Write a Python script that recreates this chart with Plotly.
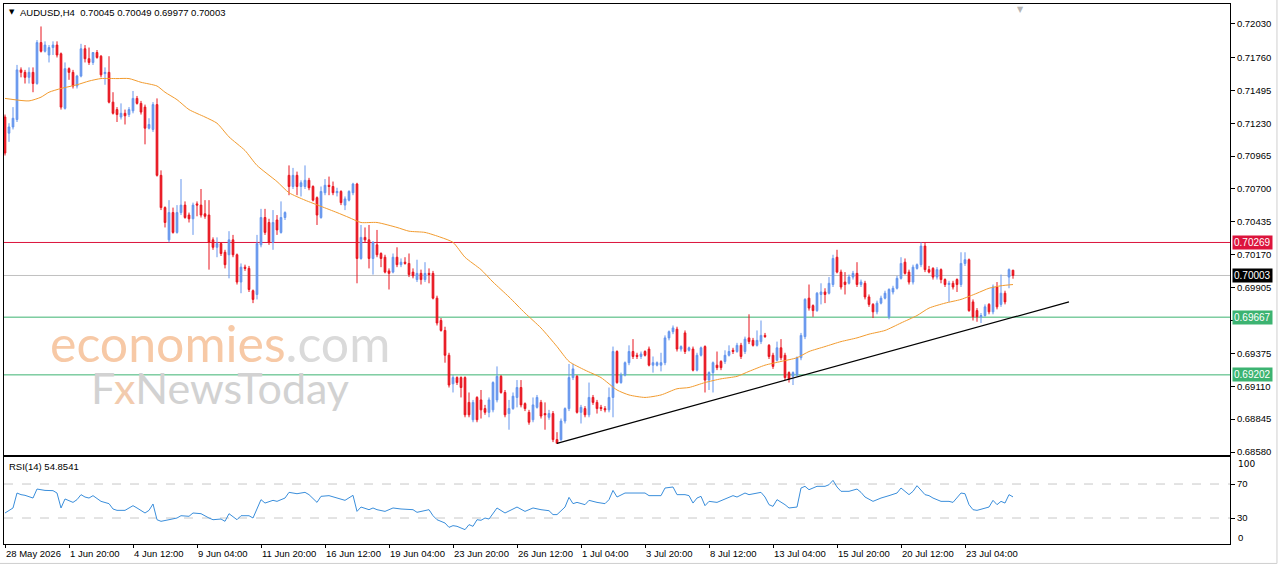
import plotly.graph_objects as go

# ---------------- data ----------------
opens = [
0.7128,0.7115,0.7120,0.7126,0.7166,0.7164,0.7160,0.7164,0.7155,0.7188,
0.7181,0.7178,0.7184,0.7186,0.7179,0.7135,0.7167,0.7164,0.7153,0.7161,
0.7183,0.7175,0.7172,0.7180,0.7177,0.7163,0.7164,0.7140,0.7134,0.7128,
0.7131,0.7130,0.7133,0.7143,0.7139,0.7136,0.7119,0.7118,0.7138,0.7081,
0.7055,0.7029,0.7051,0.7035,0.7051,0.7057,0.7049,0.7046,0.7058,0.7057,
0.7050,0.7049,0.7029,0.7023,0.7026,0.7019,0.7017,0.7029,0.7017,0.6995,
0.7007,0.7006,0.6988,0.6985,0.7025,0.7047,0.7043,0.7027,0.7045,0.7035,
0.7047,0.7081,0.7072,0.7081,0.7072,0.7072,0.7077,0.7072,0.7063,0.7047,
0.7067,0.7073,0.7072,0.7067,0.7068,0.7057,0.7061,0.7067,0.7074,0.7014,
0.7031,0.7029,0.7014,0.7025,0.7018,0.7015,0.7004,0.7003,0.7015,0.7009,
0.7011,0.7010,0.7003,0.6997,0.7002,0.6997,0.7002,0.7002,0.6982,0.6964,
0.6956,0.6936,0.6913,0.6918,0.6918,0.6918,0.6898,0.6884,0.6902,0.6900,
0.6893,0.6890,0.6892,0.6900,0.6919,0.6906,0.6889,0.6893,0.6902,0.6910,
0.6897,0.6890,0.6884,0.6894,0.6898,0.6889,0.6886,0.6889,0.6868,0.6868,
0.6883,0.6893,0.6918,0.6919,0.6890,0.6893,0.6888,0.6902,0.6898,0.6894,
0.6893,0.6892,0.6902,0.6939,0.6914,0.6920,0.6930,0.6939,0.6936,0.6935,
0.6939,0.6941,0.6928,0.6928,0.6928,0.6930,0.6950,0.6955,0.6957,0.6941,
0.6954,0.6940,0.6941,0.6924,0.6936,0.6943,0.6916,0.6922,0.6928,0.6931,
0.6931,0.6936,0.6940,0.6939,0.6944,0.6939,0.6950,0.6948,0.6944,0.6947,
0.6952,0.6944,0.6936,0.6932,0.6942,0.6936,0.6922,0.6919,0.6920,0.6934,
0.6951,0.6982,0.6976,0.6972,0.6985,0.6987,0.6986,0.6993,0.7015,0.7003,
0.6995,0.6994,0.6999,0.7002,0.6993,0.6994,0.6983,0.6977,0.6971,0.6978,
0.6982,0.6967,0.6987,0.6990,0.6998,0.7011,0.7003,0.6995,0.7006,0.7009,
0.7024,0.7005,0.7006,0.6999,0.7005,0.6997,0.6993,0.6994,0.6997,0.6993,
0.7010,0.7013,0.6979,0.6972,0.6967,0.6968,0.6977,0.6971,0.6991,0.6977,
0.6986,0.6999,0.70045]

highs = [
0.7130,0.7123,0.7136,0.7170,0.7168,0.7166,0.7168,0.7168,0.7190,0.7201,
0.7189,0.7186,0.7189,0.7189,0.7180,0.7172,0.7168,0.7166,0.7162,0.7187,
0.7186,0.7184,0.7180,0.7182,0.7178,0.7168,0.7177,0.7148,0.7136,0.7139,
0.7134,0.7136,0.7149,0.7145,0.7141,0.7138,0.7127,0.7140,0.7143,0.7085,
0.7056,0.7061,0.7055,0.7057,0.7078,0.7060,0.7051,0.7059,0.7060,0.7070,
0.7061,0.7061,0.7031,0.7031,0.7027,0.7021,0.7036,0.7033,0.7018,0.7010,
0.7009,0.7008,0.6989,0.7033,0.7054,0.7054,0.7046,0.7053,0.7049,0.7060,
0.7052,0.7089,0.7087,0.7084,0.7077,0.7089,0.7079,0.7073,0.7064,0.7072,
0.7078,0.7080,0.7076,0.7071,0.7069,0.7064,0.7069,0.7075,0.7075,0.7041,
0.7039,0.7041,0.7028,0.7037,0.7019,0.7017,0.7006,0.7018,0.7023,0.7014,
0.7015,0.7018,0.7006,0.7013,0.7005,0.7011,0.7006,0.7004,0.6984,0.6966,
0.6959,0.6938,0.6920,0.6919,0.6919,0.6919,0.6906,0.6900,0.6903,0.6908,
0.6896,0.6902,0.6915,0.6927,0.6920,0.6908,0.6900,0.6906,0.6916,0.6916,
0.6898,0.6892,0.6902,0.6904,0.6900,0.6898,0.6892,0.6891,0.6874,0.6885,
0.6894,0.6929,0.6929,0.6920,0.6896,0.6895,0.6914,0.6904,0.6900,0.6896,
0.6895,0.6910,0.6943,0.6940,0.6922,0.6931,0.6944,0.6949,0.6938,0.6939,
0.6940,0.6943,0.6935,0.6931,0.6938,0.6952,0.6956,0.6960,0.6959,0.6944,
0.6956,0.6943,0.6943,0.6938,0.6943,0.6944,0.6923,0.6931,0.6939,0.6932,
0.6940,0.6944,0.6942,0.6946,0.6946,0.6951,0.6969,0.6950,0.6956,0.6964,
0.6954,0.6945,0.6938,0.6947,0.6949,0.6938,0.6923,0.6923,0.6935,0.6954,
0.6982,0.6993,0.6977,0.6987,0.6994,0.6990,0.6999,0.7017,0.7021,0.7005,
0.7003,0.7001,0.7004,0.7011,0.6997,0.6996,0.6985,0.6978,0.6980,0.6984,
0.6988,0.6990,0.6992,0.7000,0.7015,0.7014,0.7005,0.7009,0.7010,0.7027,
0.7027,0.7008,0.7007,0.7007,0.7006,0.6998,0.6996,0.6996,0.6998,0.7019,
0.7019,0.7014,0.6981,0.6974,0.6970,0.6977,0.6978,0.6993,0.6995,0.7001,
0.6988,0.7006,0.70049]

lows = [
0.7097,0.7108,0.7118,0.7124,0.7160,0.7155,0.7155,0.7148,0.7154,0.7180,
0.7180,0.7172,0.7178,0.7176,0.7134,0.7134,0.7158,0.7151,0.7151,0.7160,
0.7172,0.7170,0.7170,0.7175,0.7160,0.7154,0.7139,0.7130,0.7124,0.7126,
0.7122,0.7128,0.7131,0.7138,0.7130,0.7106,0.7118,0.7116,0.7080,0.7053,
0.7039,0.7027,0.7034,0.7034,0.7049,0.7046,0.7043,0.7033,0.7048,0.7047,
0.7046,0.7005,0.7021,0.7015,0.7016,0.7006,0.6998,0.7015,0.6993,0.6986,
0.7004,0.6987,0.6978,0.6981,0.7023,0.7033,0.7025,0.7021,0.7033,0.7034,
0.7045,0.7065,0.7070,0.7065,0.7064,0.7070,0.7069,0.7060,0.7041,0.7046,
0.7065,0.7065,0.7065,0.7064,0.7057,0.7053,0.7060,0.7065,0.6994,0.7013,
0.7027,0.7006,0.7001,0.7015,0.7007,0.7002,0.6989,0.7002,0.7007,0.7007,
0.7009,0.6999,0.6998,0.6995,0.6993,0.6995,0.6994,0.6981,0.6960,0.6955,
0.6930,0.6910,0.6906,0.6912,0.6902,0.6886,0.6886,0.6882,0.6882,0.6885,
0.6888,0.6886,0.6890,0.6898,0.6905,0.6886,0.6876,0.6892,0.6894,0.6894,
0.6891,0.6880,0.6882,0.6893,0.6885,0.6876,0.6884,0.6866,0.6865,0.6867,
0.6881,0.6891,0.6916,0.6889,0.6881,0.6886,0.6886,0.6896,0.6889,0.6891,
0.6890,0.6890,0.6886,0.6913,0.6913,0.6919,0.6928,0.6933,0.6933,0.6933,
0.6935,0.6927,0.6922,0.6927,0.6923,0.6928,0.6948,0.6953,0.6939,0.6939,
0.6937,0.6939,0.6923,0.6923,0.6935,0.6906,0.6908,0.6906,0.6924,0.6924,
0.6929,0.6935,0.6937,0.6938,0.6933,0.6937,0.6945,0.6943,0.6943,0.6945,
0.6950,0.6933,0.6925,0.6931,0.6932,0.6916,0.6914,0.6912,0.6919,0.6932,
0.6949,0.6972,0.6967,0.6971,0.6977,0.6978,0.6985,0.6991,0.7002,0.6989,
0.6985,0.6993,0.6997,0.6991,0.6991,0.6981,0.6975,0.6966,0.6969,0.6977,
0.6981,0.6965,0.6985,0.6989,0.6997,0.7001,0.6993,0.6993,0.7005,0.7007,
0.7003,0.7002,0.6997,0.6997,0.6994,0.6991,0.6979,0.6989,0.6987,0.6991,
0.7008,0.6971,0.6964,0.6963,0.6962,0.6967,0.6969,0.6969,0.6973,0.6975,
0.6977,0.6990,0.69977]

closes = [
0.7099,0.7120,0.7127,0.7166,0.7164,0.7160,0.7164,0.7155,0.7188,0.7181,
0.7186,0.7184,0.7186,0.7178,0.7136,0.7167,0.7164,0.7153,0.7161,0.7183,
0.7175,0.7172,0.7180,0.7176,0.7162,0.7164,0.7140,0.7131,0.7130,0.7131,
0.7129,0.7134,0.7143,0.7139,0.7132,0.7119,0.7122,0.7138,0.7081,0.7055,
0.7043,0.7051,0.7035,0.7051,0.7057,0.7047,0.7046,0.7057,0.7057,0.7049,
0.7048,0.7027,0.7023,0.7026,0.7018,0.7009,0.7029,0.7017,0.6995,0.7007,
0.7006,0.6989,0.6981,0.7026,0.7047,0.7035,0.7027,0.7043,0.7037,0.7047,
0.7051,0.7072,0.7081,0.7072,0.7075,0.7077,0.7071,0.7061,0.7049,0.7068,
0.7073,0.7072,0.7067,0.7068,0.7059,0.7062,0.7068,0.7074,0.7014,0.7031,
0.7029,0.7014,0.7027,0.7017,0.7014,0.7003,0.7002,0.7015,0.7009,0.7011,
0.7010,0.7001,0.7000,0.7002,0.6997,0.7002,0.7001,0.6982,0.6962,0.6956,
0.6936,0.6912,0.6918,0.6914,0.6910,0.6888,0.6888,0.6898,0.6884,0.6892,
0.6890,0.6900,0.6914,0.6919,0.6906,0.6888,0.6893,0.6903,0.6910,0.6896,
0.6893,0.6882,0.6896,0.6902,0.6887,0.6888,0.6889,0.6868,0.6865,0.6883,
0.6893,0.6918,0.6925,0.6890,0.6894,0.6888,0.6902,0.6898,0.6893,0.6893,
0.6892,0.6902,0.6939,0.6914,0.6920,0.6930,0.6939,0.6935,0.6935,0.6937,
0.6936,0.6928,0.6930,0.6930,0.6930,0.6950,0.6955,0.6958,0.6941,0.6943,
0.6939,0.6942,0.6924,0.6936,0.6942,0.6916,0.6922,0.6930,0.6926,0.6926,
0.6936,0.6939,0.6939,0.6944,0.6935,0.6949,0.6947,0.6944,0.6948,0.6952,
0.6951,0.6935,0.6927,0.6942,0.6934,0.6918,0.6917,0.6922,0.6934,0.6952,
0.6981,0.6974,0.6972,0.6986,0.6987,0.6985,0.6994,0.7014,0.7003,0.6991,
0.6993,0.6999,0.7002,0.6993,0.6995,0.6983,0.6977,0.6971,0.6978,0.6982,
0.6986,0.6989,0.6990,0.6998,0.7010,0.7002,0.6995,0.7007,0.7009,0.7024,
0.7005,0.7003,0.6999,0.7005,0.6997,0.6993,0.6994,0.6991,0.6993,0.7010,
0.7013,0.6972,0.6967,0.6967,0.6968,0.6975,0.6971,0.6991,0.6975,0.6986,
0.6979,0.7005,0.70003]

bar_index = list(range(len(closes)))

# moving average (orange) sampled along the bars
ma_index = [0,6,9,11,14,18,21,24,28,31,34,38,40,43,46,50,53,56,60,63,68,71,75,79,83,86,89,93,98,101,
            105,109,112,115,119,122,126,130,134,138,141,145,149,153,156,160,164,168,171,175,179,183,186,190,
            194,198,201,205,209,213,216,220,224,228,231,235,239,243,246,249,252]
ma_value = [0.7143,0.7141,0.7144,0.7148,0.7151,0.7154,0.7157,0.7159,0.7159,0.7159,0.7156,0.7153,0.7148,0.7142,
            0.7134,0.7128,0.7123,0.7112,0.7101,0.7089,0.7076,0.7067,0.7061,0.7056,0.7051,0.7047,0.7043,0.7043,
            0.7039,0.7036,0.7035,0.7031,0.7027,0.7015,0.7005,0.6995,0.6983,0.6970,0.6958,0.6943,0.6931,0.6924,
            0.6918,0.6908,0.6904,0.6902,0.6904,0.6909,0.6910,0.6914,0.6917,0.6919,0.6923,0.6928,0.6931,0.6934,
            0.6939,0.6943,0.6947,0.6950,0.6953,0.6956,0.6962,0.6968,0.6974,0.6978,0.6981,0.6986,0.6990,0.6992,
            0.6993]

# RSI(14)
rsi_index = [0,2,3,4,5,7,8,10,12,13,14,15,17,18,19,20,21,22,24,26,27,28,30,32,33,35,36,37,38,39,41,43,44,46,
             47,49,51,52,54,55,56,57,58,59,61,62,63,64,65,67,68,70,71,73,75,76,78,79,81,83,85,87,88,89,91,92,
             93,95,97,99,102,103,105,106,107,108,110,111,112,113,115,116,117,118,119,120,121,123,125,127,128,
             130,132,134,136,137,138,140,141,142,143,145,146,148,150,151,152,153,155,159,160,161,164,165,167,
             168,170,171,172,173,174,175,176,178,180,181,182,183,185,186,188,189,190,191,192,193,195,196,198,
             199,200,201,203,205,206,207,208,209,211,213,214,215,217,219,221,223,224,226,227,228,230,231,232,
             234,236,237,239,240,241,242,243,245,246,247,248,249,250,251,252]
rsi_value = [35.9,41.8,59.4,57.5,56.7,53.5,64.1,62.5,62.2,59.4,41.8,52.4,48.4,51.6,57.5,54.7,53.5,56.3,49.6,
             46.9,40.6,39.0,39.0,44.5,41.8,35.9,39.0,46.5,28.0,26.1,28.0,30.0,32.7,32.0,35.9,35.1,30.0,28.0,
             28.8,26.1,35.1,32.0,28.0,32.7,32.7,30.0,41.8,51.6,47.6,50.8,49.6,53.5,60.2,58.6,60.2,57.5,48.4,
             55.5,56.3,53.5,50.8,56.7,37.8,42.9,39.8,41.8,39.8,37.8,41.8,40.6,39.8,36.7,39.0,39.8,32.7,28.0,
             24.1,19.0,21.0,20.2,16.3,22.2,20.2,28.0,27.3,30.0,28.8,41.8,35.9,40.6,42.9,37.8,41.8,39.8,38.6,
             34.0,34.0,42.9,54.3,46.9,48.4,45.7,50.8,48.4,46.9,51.6,62.5,54.7,59.4,59.4,59.4,56.3,56.3,65.3,
             66.5,57.5,57.5,56.3,47.6,53.5,55.5,44.5,49.6,48.4,52.4,53.5,56.3,54.7,59.4,57.5,59.4,60.2,54.7,
             45.7,43.7,51.6,45.7,41.8,42.9,65.3,67.3,63.3,67.3,67.3,69.2,74.3,66.5,61.4,61.4,64.1,60.2,54.7,
             49.6,53.5,56.3,59.4,65.3,57.5,61.4,68.0,57.5,56.3,53.5,49.6,49.6,48.4,59.4,58.6,45.7,39.8,39.0,
             41.8,42.9,50.8,45.7,49.6,47.6,57.5,54.85]
rsi_levels = [70, 30]
rsi_scale_ends = [100, 0]

# trend line (bar index, price)
trend_index = [138, 266]
trend_price = [0.6865, 0.6979]

# horizontal levels
level_prices = [0.70269, 0.70003, 0.69667, 0.69202]
level_colors = ["#DC143C", "#C0C0C0", "#3CB371", "#3CB371"]
level_tag_bg = ["#DC143C", "#000000", "#3CB371", "#3CB371"]

price_ticks = [0.72030, 0.71760, 0.71495, 0.71230, 0.70965, 0.70700, 0.70435, 0.70170,
               0.69905, 0.69640, 0.69375, 0.69110, 0.68845, 0.68580]

date_index = [0, 16, 32, 48, 64, 80, 96, 112, 128, 144, 160, 176, 192, 208, 224, 240]
date_labels = ["28 May 2026", "1 Jun 20:00", "4 Jun 12:00", "9 Jun 04:00", "11 Jun 20:00",
               "16 Jun 12:00", "19 Jun 04:00", "23 Jun 20:00", "26 Jun 12:00", "1 Jul 04:00",
               "3 Jul 20:00", "8 Jul 12:00", "13 Jul 04:00", "15 Jul 20:00", "20 Jul 12:00",
               "23 Jul 04:00"]

title_text = "AUDUSD,H4  0.70045 0.70049 0.69977 0.70003"
rsi_text = "RSI(14) 54.8541"

# ---------------- styling ----------------
BULL = "#6495ED"
BEAR = "#E8141E"
FONT = "Liberation Sans, Arial, sans-serif"
X_RANGE = [-0.25, 306.25]

fig = go.Figure()

fig.add_trace(go.Candlestick(
    x=bar_index, open=opens, high=highs, low=lows, close=closes,
    increasing=dict(line=dict(color=BULL, width=1), fillcolor=BULL),
    decreasing=dict(line=dict(color=BEAR, width=1), fillcolor=BEAR),
    whiskerwidth=0, xaxis="x", yaxis="y", hoverinfo="skip", showlegend=False))

fig.add_trace(go.Scatter(x=ma_index, y=ma_value, mode="lines",
                         line=dict(color="#F29B2E", width=1, shape="spline", smoothing=0.6),
                         xaxis="x", yaxis="y", hoverinfo="skip", showlegend=False))

fig.add_trace(go.Scatter(x=trend_index, y=trend_price, mode="lines",
                         line=dict(color="#000000", width=1.2),
                         xaxis="x", yaxis="y", hoverinfo="skip", showlegend=False))

fig.add_trace(go.Scatter(x=rsi_index, y=rsi_value, mode="lines",
                         line=dict(color="#3A8EDB", width=1),
                         xaxis="x2", yaxis="y2", hoverinfo="skip", showlegend=False))

shapes = []
for p, c in zip(level_prices, level_colors):
    shapes.append(dict(type="line", xref="paper", yref="y", x0=0, x1=1, y0=p, y1=p,
                       line=dict(color=c, width=1), layer="below"))
for lv in rsi_levels:
    shapes.append(dict(type="line", xref="paper", yref="y2", x0=0, x1=1, y0=lv, y1=lv,
                       line=dict(color="#C8C8C8", width=1, dash="dash"), layer="below"))
# thin window border at right and bottom
shapes.append(dict(type="line", xref="paper", yref="paper", x0=1.0383, x1=1.0383, y0=-0.036, y1=1.0074,
                   line=dict(color="#CFCFCF", width=1)))
shapes.append(dict(type="line", xref="paper", yref="paper", x0=-0.0033, x1=1.0383, y0=-0.036, y1=-0.036,
                   line=dict(color="#CFCFCF", width=1)))

annotations = []
# price tags
for p, bg in zip(level_prices, level_tag_bg):
    annotations.append(dict(xref="paper", yref="y", x=1, y=p, xanchor="left", yanchor="middle",
                            xshift=2, text=f"{p:.5f}", showarrow=False, bgcolor=bg, borderpad=1,
                            font=dict(family=FONT, size=10, color="white")))
# title
annotations.append(dict(xref="paper", yref="paper", x=0, y=1, xshift=3, yshift=-8, xanchor="left",
                        yanchor="middle", text="▼", showarrow=False,
                        font=dict(family="DejaVu Sans", size=7, color="black")))
annotations.append(dict(xref="paper", yref="paper", x=0, y=1, xshift=14, yshift=-8, xanchor="left",
                        yanchor="middle", text=title_text, showarrow=False,
                        font=dict(family=FONT, size=9.5, color="black")))
annotations.append(dict(xref="paper", yref="paper", x=0, y=0.1611, xshift=3, yshift=-9, xanchor="left",
                        yanchor="middle", text=rsi_text, showarrow=False,
                        font=dict(family=FONT, size=9.5, color="black")))
# RSI scale ends (MT4 prints them just inside the panel)
annotations.append(dict(xref="paper", yref="y2", x=1, y=rsi_scale_ends[0], xshift=6, yshift=-5,
                        xanchor="left", yanchor="middle", text=str(rsi_scale_ends[0]), showarrow=False,
                        bgcolor="white", font=dict(family="DejaVu Sans", size=9, color="black")))
annotations.append(dict(xref="paper", yref="y2", x=1, y=rsi_scale_ends[1], xshift=6, yshift=6,
                        xanchor="left", yanchor="middle", text=str(rsi_scale_ends[1]), showarrow=False,
                        font=dict(family=FONT, size=9.5, color="black")))
# date labels
for di, dl in zip(date_index, date_labels):
    annotations.append(dict(xref="x2", yref="paper", x=di, y=0, xshift=-1, yshift=-9,
                            xanchor="left", yanchor="middle", text=dl, showarrow=False,
                            font=dict(family=FONT, size=9.5, color="black")))
# shift marker
annotations.append(dict(xref="x", yref="paper", x=253.8, y=1, yshift=1, xanchor="center", yanchor="top",
                        text="▼", showarrow=False, font=dict(family="DejaVu Sans", size=8, color="#B4B4B4")))
# watermark
annotations.append(dict(xref="paper", yref="paper", x=0.036, y=0.372, xanchor="left", yanchor="middle",
                        text='<span style="color:#F7C9A6">economies</span><span style="color:#DADADA">.com</span>',
                        showarrow=False, font=dict(family="Lato, sans-serif", size=50)))
annotations.append(dict(xref="paper", yref="paper", x=0.069, y=0.290, xanchor="left", yanchor="middle",
                        text='<span style="color:#D2D2D2">F</span><span style="color:#F2CBAE">x</span><span style="color:#D2D2D2">NewsToday</span>',
                        showarrow=False, font=dict(family="Lato, sans-serif", size=43)))

axis_common = dict(showgrid=False, zeroline=False, showline=True, mirror=True,
                   linecolor="black", linewidth=1)

fig.update_layout(
    width=1280, height=567, autosize=False,
    margin=dict(l=4, r=50, t=4, b=23),
    paper_bgcolor="white", plot_bgcolor="white",
    boxgap=0.4,
    showlegend=False,
    xaxis=dict(domain=[0, 1], range=X_RANGE, anchor="y", showticklabels=False, ticks="",
               rangeslider=dict(visible=False), **axis_common),
    xaxis2=dict(domain=[0, 1], range=X_RANGE, anchor="y2", matches="x", showticklabels=False,
                tickvals=date_index, ticks="outside", ticklen=3, tickcolor="black", **axis_common),
    yaxis=dict(domain=[0.1648, 1], range=[0.68556, 0.72191], side="right", anchor="x",
               tickvals=price_ticks, ticktext=[f"{t:.5f}" for t in price_ticks],
               ticks="outside", ticklen=4, tickcolor="black",
               tickfont=dict(family=FONT, size=9.5, color="black"), **axis_common),
    yaxis2=dict(domain=[0, 0.1611], range=[-0.6, 101.8], side="right", anchor="x2",
                tickvals=rsi_levels, ticktext=[str(v) for v in rsi_levels],
                ticks="outside", ticklen=4, tickcolor="black",
                tickfont=dict(family=FONT, size=9.5, color="black"), **axis_common),
    shapes=shapes,
    annotations=annotations,
)

fig.write_html("out.html")
